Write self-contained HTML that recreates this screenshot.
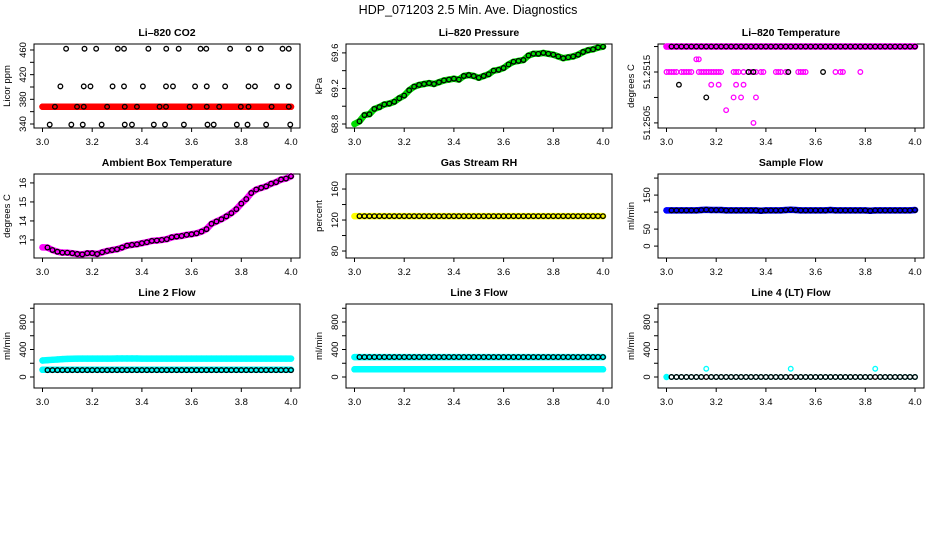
<!DOCTYPE html>
<html><head><meta charset="utf-8"><style>
html,body{margin:0;padding:0;background:#fff;}
svg{display:block;font-family:"Liberation Sans",sans-serif;}
</style></head><body>
<svg id="c" width="936" height="540" viewBox="0 0 936 540">
<text x="468" y="14" text-anchor="middle" font-size="12.5">HDP_071203  2.5 Min. Ave. Diagnostics</text>
</svg>
<script>
const times = [3.00,3.02,3.04,3.06,3.08,3.10,3.12,3.14,3.16,3.18,3.20,3.22,3.24,3.26,3.28,3.30,3.32,3.34,3.36,3.38,3.40,3.42,3.44,3.46,3.48,3.50,3.52,3.54,3.56,3.58,3.60,3.62,3.64,3.66,3.68,3.70,3.72,3.74,3.76,3.78,3.80,3.82,3.84,3.86,3.88,3.90,3.92,3.94,3.96,3.98,4.00];
const xTicks = [3.0,3.2,3.4,3.6,3.8,4.0];
const xTickLabels = ["3.0","3.2","3.4","3.6","3.8","4.0"];

const co2Red = [368,368,368,368,368,368,368,368,368,368,368,368,368,368,368,368,368,368,368,368,368,368,368,368,368,368,368,368,368,368,368,368,368,368,368,368,368,368,368,368,368,368,368,368,368,368,368,368,368,368,368];
const co2Times = [3.095,3.169,3.216,3.303,3.328,3.426,3.498,3.548,3.636,3.659,3.755,3.829,3.878,3.966,3.991,
 3.072,3.166,3.193,3.282,3.328,3.404,3.497,3.525,3.614,3.661,3.735,3.829,3.855,3.944,3.991,
 3.050,3.139,3.166,3.260,3.331,3.380,3.471,3.497,3.592,3.661,3.711,3.798,3.829,3.922,3.991,
 3.029,3.116,3.162,3.238,3.331,3.360,3.448,3.493,3.569,3.664,3.689,3.782,3.825,3.900,3.997];
const co2Values = [462,462,462,462,462,462,462,462,462,462,462,462,462,462,462,
 401,401,401,401,401,401,401,401,401,401,401,401,401,401,401,
 368,368,368,368,368,368,368,368,368,368,368,368,368,368,368,
 339,339,339,339,339,339,339,339,339,339,339,339,339,339,339];

const pressure = [68.80,68.83,68.90,68.91,68.97,68.99,69.02,69.03,69.05,69.09,69.12,69.18,69.22,69.24,69.25,69.26,69.25,69.27,69.29,69.30,69.31,69.30,69.34,69.35,69.34,69.32,69.34,69.36,69.40,69.41,69.43,69.47,69.50,69.51,69.52,69.57,69.59,69.59,69.60,69.59,69.58,69.56,69.54,69.55,69.56,69.58,69.61,69.63,69.64,69.66,69.67];

const tempMagTimes = [3.00,3.01,3.02,3.03,3.04,3.06,3.07,3.08,3.09,3.10,3.13,3.14,3.15,3.16,3.17,3.18,3.19,3.20,3.21,3.22,3.27,3.28,3.29,3.31,3.33,3.34,3.36,3.38,3.39,3.44,3.45,3.46,3.48,3.49,3.53,3.54,3.55,3.56,3.68,3.70,3.71,3.78,
 3.12,3.13,3.18,3.21,3.28,3.31,3.27,3.30,3.36,3.24,3.35];
const tempMagValues = [51.2515,51.2515,51.2515,51.2515,51.2515,51.2515,51.2515,51.2515,51.2515,51.2515,51.2515,51.2515,51.2515,51.2515,51.2515,51.2515,51.2515,51.2515,51.2515,51.2515,51.2515,51.2515,51.2515,51.2515,51.2515,51.2515,51.2515,51.2515,51.2515,51.2515,51.2515,51.2515,51.2515,51.2515,51.2515,51.2515,51.2515,51.2515,51.2515,51.2515,51.2515,51.2515,
 51.25175,51.25175,51.25125,51.25125,51.25125,51.25125,51.2510,51.2510,51.2510,51.25075,51.2505];
const tempBlackTimes = [3.33,3.35,3.49,3.63,3.05,3.16];
const tempBlackValues = [51.2515,51.2515,51.2515,51.2515,51.25125,51.2510];
const tempTop = [51.2520,51.2520,51.2520,51.2520,51.2520,51.2520,51.2520,51.2520,51.2520,51.2520,51.2520,51.2520,51.2520,51.2520,51.2520,51.2520,51.2520,51.2520,51.2520,51.2520,51.2520,51.2520,51.2520,51.2520,51.2520,51.2520,51.2520,51.2520,51.2520,51.2520,51.2520,51.2520,51.2520,51.2520,51.2520,51.2520,51.2520,51.2520,51.2520,51.2520,51.2520,51.2520,51.2520,51.2520,51.2520,51.2520,51.2520,51.2520,51.2520,51.2520,51.2520];

const ambient = [12.61,12.60,12.47,12.38,12.33,12.33,12.30,12.26,12.24,12.30,12.30,12.26,12.35,12.42,12.47,12.51,12.60,12.70,12.74,12.77,12.83,12.88,12.95,12.97,13.00,13.04,13.14,13.18,13.21,13.27,13.30,13.35,13.44,13.57,13.85,13.97,14.09,14.24,14.41,14.62,14.91,15.15,15.47,15.65,15.74,15.82,15.96,16.04,16.18,16.23,16.35];

const rh = [125,125,125,125,125,125,125,125,125,125,125,125,125,125,125,125,125,125,125,125,125,125,125,125,125,125,125,125,125,125,125,125,125,125,125,125,125,125,125,125,125,125,125,125,125,125,125,125,125,125,125];
const sampleFlow = [105,105,105,105,105,105,105,106,107,106,106,106,105,105,105,105,105,105,105,104,105,105,105,105,106,107,106,105,105,105,105,105,105,106,105,105,105,105,105,105,105,104,105,105,105,105,105,105,105,105,106];

const line2Upper = [240,245,250,255,260,263,265,267,268,268,268,268,268,268,268,269,269,269,269,269,268,268,268,268,268,268,268,268,268,268,268,268,268,268,268,268,268,268,268,268,268,268,268,268,268,268,268,268,268,268,268];
const line2Lower = [105,105,105,105,105,105,105,105,105,105,105,105,105,105,105,105,105,105,105,105,105,105,105,105,105,105,105,105,105,105,105,105,105,105,105,105,105,105,105,105,105,105,105,105,105,105,105,105,105,105,105];
const line2Black = [100,100,100,100,100,100,100,100,100,100,100,100,100,100,100,100,100,100,100,100,100,100,100,100,100,100,100,100,100,100,100,100,100,100,100,100,100,100,100,100,100,100,100,100,100,100,100,100,100,100,100];

const line3Upper = [290,290,290,290,290,290,290,290,290,290,290,290,290,290,290,290,290,290,290,290,290,290,290,290,290,290,290,290,290,290,290,290,290,290,290,290,290,290,290,290,290,290,290,290,290,290,290,290,290,290,290];
const line3Lower = [112,112,112,112,112,112,112,112,112,112,112,112,112,112,112,112,112,112,112,112,112,112,112,112,112,112,112,112,112,112,112,112,112,112,112,112,112,112,112,112,112,112,112,112,112,112,112,112,112,112,112];

const line4Cyan = [0,0,0,0,0,0,0,0,120,0,0,0,0,0,0,0,0,0,0,0,0,0,0,0,0,120,0,0,0,0,0,0,0,0,0,0,0,0,0,0,0,0,120,0,0,0,0,0,0,0,0];
const line4Black = [0,0,0,0,0,0,0,0,0,0,0,0,0,0,0,0,0,0,0,0,0,0,0,0,0,0,0,0,0,0,0,0,0,0,0,0,0,0,0,0,0,0,0,0,0,0,0,0,0,0,0];

const NS = "http://www.w3.org/2000/svg";
const svg = document.getElementById('c');
function mk(tag, attrs, parent){
  const e = document.createElementNS(NS, tag);
  for (const k in attrs) e.setAttribute(k, attrs[k]);
  (parent||svg).appendChild(e);
  return e;
}

function panel(o){
  const L = 34 + 312*o.col, T = [44,174,304][o.row], W = 266, H = 84;
  const g = mk('g', {});
  
  
  const xs = t => L + 8.5 + (t - 3) * 248.5;
  const ys = v => T + H - (v - o.dom[0]) / (o.dom[1] - o.dom[0]) * H;
  const t = mk('text', {x: L + W/2, y: T - 8, 'text-anchor': 'middle', 'font-size': 10.5, 'font-weight': 'bold'}, g);
  t.textContent = o.title;
  
  
  const box = mk('rect', {x: L, y: T, width: W, height: H, fill: 'none', stroke: '#000', 'stroke-width': 1}, g);
  
  
  const xa = mk('g', {}, g);
  
  
  mk('line', {x1: xs(3), x2: xs(4), y1: T+H, y2: T+H, stroke: '#000'}, xa);
  xTicks.forEach((v, i) => {
    mk('line', {x1: xs(v), x2: xs(v), y1: T+H, y2: T+H+4, stroke: '#000'}, xa);
    const lb = mk('text', {x: xs(v), y: T+H+17, 'text-anchor': 'middle', 'font-size': 9.5}, xa);
    lb.textContent = xTickLabels[i];
  });
  const ya = mk('g', {}, g);
  
  
  mk('line', {x1: L, x2: L, y1: ys(o.yt[0]), y2: ys(o.yt[o.yt.length-1]), stroke: '#000'}, ya);
  o.yt.forEach(v => mk('line', {x1: L-4, x2: L, y1: ys(v), y2: ys(v), stroke: '#000'}, ya));
  o.yl.forEach((s, i) => {
    const y = ys(o.ylv[i]);
    const lb = mk('text', {x: L-8, y: y, 'text-anchor': 'middle', 'font-size': 9.5, transform: `rotate(-90 ${L-8} ${y})`}, ya);
    lb.textContent = s;
  });
  const yt = mk('text', {x: L-24, y: T+H/2, 'text-anchor': 'middle', 'font-size': 9.5, transform: `rotate(-90 ${L-24} ${T+H/2})`}, g);
  yt.textContent = o.ylab;
  
  
  return {g, xs, ys};
}

function band(p, name, tArr, vArr, color){
  const s = mk('g', {}, p.g);
  
  
  const pts = tArr.map((t, i) => p.xs(t) + ',' + p.ys(vArr[i])).join(' ');
  mk('polyline', {points: pts, fill: 'none', stroke: color, 'stroke-width': 6.5, 'stroke-linejoin': 'round', 'stroke-linecap': 'round'}, s);
  tArr.forEach((t, i) => mk('circle', {cx: p.xs(t), cy: p.ys(vArr[i]), r: 3.2, fill: color}, s));
}
function dots(p, name, tArr, vArr, color, skipFirst){
  const s = mk('g', {}, p.g);
  
  
  tArr.forEach((t, i) => {
    if (skipFirst && i === 0) return;
    mk('circle', {cx: p.xs(t), cy: p.ys(vArr[i]), r: 2.3, fill: 'none', stroke: color, 'stroke-width': 1.3}, s);
  });
}

p0();
function p0(){
let p = panel({col:0,row:0,name:'co2',title:'Li\u2013820 CO2',ylab:'Licor ppm',dom:[333.5,469.7],yt:[340,360,380,400,420,440,460],yl:['340','380','420','460'],ylv:[340,380,420,460]});
band(p,'co2-red-series',times,co2Red,'#ff0000');
dots(p,'co2-black-points',co2Times,co2Values,'#000');

p = panel({col:1,row:0,name:'pressure',title:'Li\u2013820 Pressure',ylab:'kPa',dom:[68.755,69.70],yt:[68.8,69.0,69.2,69.4,69.6],yl:['68.8','69.2','69.6'],ylv:[68.8,69.2,69.6]});
band(p,'pressure-green-series',times,pressure,'#00dd00');
dots(p,'pressure-black-points',times,pressure,'#000',true);

p = panel({col:2,row:0,name:'li820-temp',title:'Li\u2013820 Temperature',ylab:'degrees C',dom:[51.25040,51.25205],yt:[51.2505,51.2510,51.2515,51.2520],yl:['51.2505','51.2515'],ylv:[51.2505,51.2515]});
band(p,'temp-magenta-top-series',times,tempTop,'#ff00ff');
dots(p,'temp-magenta-points',tempMagTimes,tempMagValues,'#ff00ff');
dots(p,'temp-black-top-points',times,tempTop,'#000',true);
dots(p,'temp-black-points',tempBlackTimes,tempBlackValues,'#000');

p = panel({col:0,row:1,name:'ambient-temp',title:'Ambient Box Temperature',ylab:'degrees C',dom:[12.05,16.47],yt:[13,14,15,16],yl:['13','14','15','16'],ylv:[13,14,15,16]});
band(p,'ambient-magenta-series',times,ambient,'#ff00ff');
dots(p,'ambient-black-points',times,ambient,'#000',true);

p = panel({col:1,row:1,name:'gas-rh',title:'Gas Stream RH',ylab:'percent',dom:[71,179.4],yt:[80,100,120,140,160],yl:['80','120','160'],ylv:[80,120,160]});
band(p,'rh-yellow-series',times,rh,'#ffff00');
dots(p,'rh-black-points',times,rh,'#000',true);

p = panel({col:2,row:1,name:'sample-flow',title:'Sample Flow',ylab:'ml/min',dom:[-35,212],yt:[0,50,100,150,200],yl:['0','50','150'],ylv:[0,50,150]});
band(p,'sample-flow-blue-series',times,sampleFlow,'#0000ff');
dots(p,'sample-flow-black-points',times,sampleFlow,'#000',true);

const fl = {dom:[-160,1062],yt:[0,200,400,600,800,1000],yl:['0','400','800'],ylv:[0,400,800],ylab:'ml/min'};
p = panel(Object.assign({col:0,row:2,name:'line2-flow',title:'Line 2 Flow'},fl));
band(p,'line2-cyan-upper-series',times,line2Upper,'#00ffff');
band(p,'line2-cyan-lower-series',times,line2Lower,'#00ffff');
dots(p,'line2-black-points',times,line2Black,'#000',true);

p = panel(Object.assign({col:1,row:2,name:'line3-flow',title:'Line 3 Flow'},fl));
band(p,'line3-cyan-upper-series',times,line3Upper,'#00ffff');
band(p,'line3-cyan-lower-series',times,line3Lower,'#00ffff');
dots(p,'line3-black-points',times,line3Upper,'#000',true);

p = panel(Object.assign({col:2,row:2,name:'line4-flow',title:'Line 4 (LT) Flow'},fl));
dots(p,'line4-cyan-points',times,line4Cyan,'#00ffff');
band(p,'line4-cyan-series',[times[0]],[line4Cyan[0]],'#00ffff');
dots(p,'line4-black-points',times,line4Black,'#000',true);
}
</script>
</body></html>
